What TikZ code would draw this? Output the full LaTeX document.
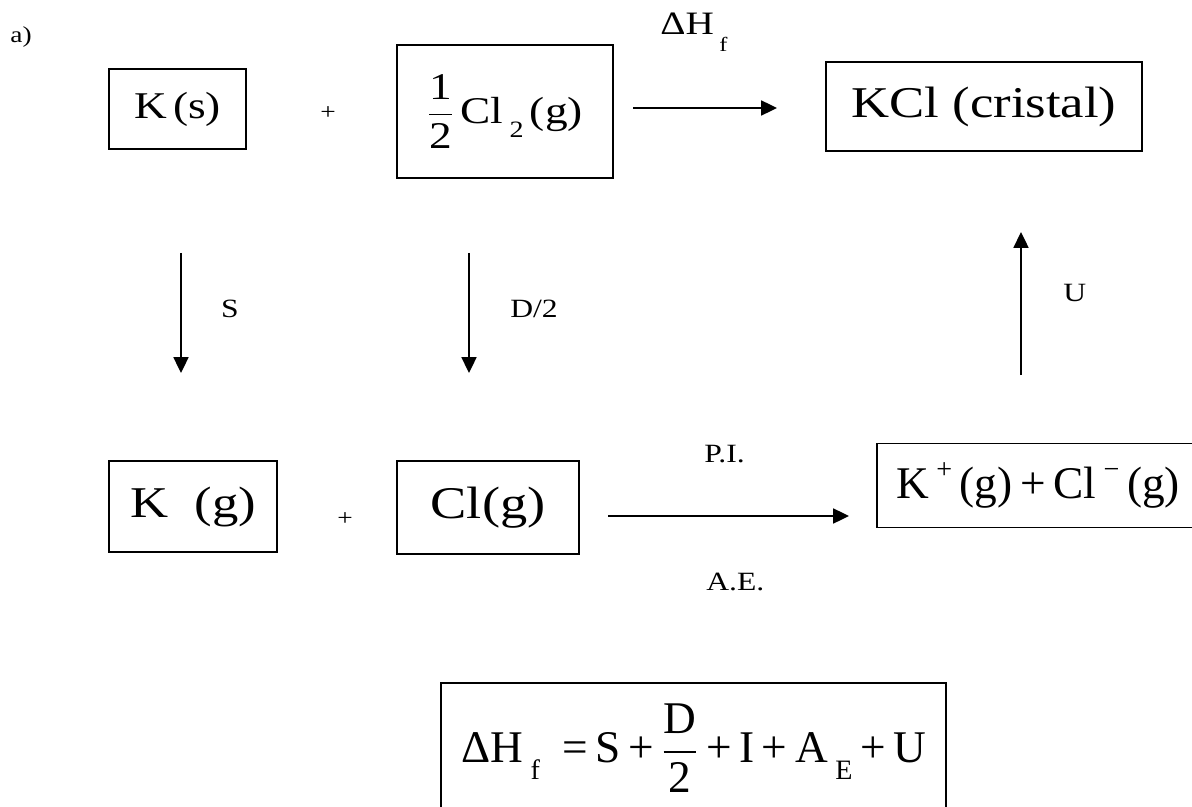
\documentclass[tikz,border=0pt]{standalone}
\usepackage{amsmath}
\usepackage{graphicx}
\usepackage{fontspec}
\setmainfont{Liberation Serif}[FakeStretch=1.2]
\newfontfamily\eqfont{Liberation Serif}
\usepackage{tikz}
\usetikzlibrary{arrows.meta,positioning}

\newcommand{\sbs}[1]{\raisebox{-0.5ex}{\scalebox{0.62}{#1}}}
\newcommand{\sps}[1]{\raisebox{0.95ex}{\scalebox{0.62}{#1}}}

\begin{document}
\begin{tikzpicture}[
    x=0.02cm, y=-0.02cm,
    block/.style={draw, line width=1.1pt, inner sep=0pt, align=center},
    arrow/.style={-{Triangle[length=9pt, width=8.5pt]}, line width=1.1pt},
    lab/.style={inner sep=0pt, font=\fontsize{15}{18}\selectfont},
    sign/.style={inner sep=0pt, font=\fontsize{13}{15}\selectfont},
  ]
  \useasboundingbox (0,0) rectangle (1192,807);
  \node[lab, anchor=base west, font=\fontsize{13}{15}\selectfont] (part) at (10,43) {a)};
  % top row
  \node[block, minimum width=2.74cm, minimum height=1.6cm, font=\fontsize{21.5}{24}\selectfont] (ks) at (177.5,109) {K\,(s)};
  \node[sign] (plus1) at (328,113) {+};
  \node[block, minimum width=4.32cm, minimum height=2.66cm, font=\fontsize{21.5}{24}\selectfont] (halfcl) at (505,111.5) {$\dfrac{\text{1}}{\text{2}}$\,Cl\,\raisebox{-0.3ex}{\sbs{2}}\,(g)};
  \node[block, minimum width=6.32cm, minimum height=1.78cm, font=\fontsize{25}{28}\selectfont] (kcl) at (984,106.5) {KCl (cristal)};
  % bottom row
  \node[block, minimum width=3.36cm, minimum height=1.82cm, font=\fontsize{25}{29}\selectfont] (kg) at (193,506.5) {K\ \ (g)};
  \node[sign] (plus2) at (345,519) {+};
  \node[block, minimum width=3.64cm, minimum height=1.86cm, font=\fontsize{25.8}{29}\selectfont] (clg) at (488,507.5) {Cl(g)};
  \node[block, minimum width=6.46cm, minimum height=1.68cm, font=\eqfont\fontsize{25.8}{29}\selectfont] (ions) at (1038,485.5) {K\,\sps{+}\,(g)\,+\,Cl\,\sps{−}\,(g)};
  % result
  \node[block, minimum width=10.1cm, minimum height=2.6cm, font=\eqfont\fontsize{25.8}{29}\selectfont] (sum) at (693.5,748) {ΔH\,\raisebox{-0.3ex}{\sbs{f}}\ \ =\,S\,+\,$\dfrac{\text{D}}{\text{2}}$\,+\,I\,+\,A\,\raisebox{-0.3ex}{\sbs{E}}\,+\,U};
  % steps
  \coordinate (f0) at (633,108);  \coordinate (f1) at (777,108);
  \coordinate (s0) at (181,253);  \coordinate (s1) at (181,373);
  \coordinate (d0) at (469,253);  \coordinate (d1) at (469,373);
  \coordinate (p0) at (608,516);  \coordinate (p1) at (849,516);
  \coordinate (u0) at (1021,375); \coordinate (u1) at (1021,232);
  \foreach \a/\b in {f0/f1, s0/s1, d0/d1, p0/p1, u0/u1}
    \draw[arrow] (\a) -- (\b);
  \node[lab, anchor=base west, font=\fontsize{18.6}{22}\selectfont] (dhf) at (660,35) {ΔH\,\raisebox{-0.6ex}{\sbs{f}}};
  \node[lab, anchor=base] (sl) at (230,317) {S};
  \node[lab, anchor=base west] (dl) at (510,317) {D/2};
  \node[lab, anchor=base west] (ul) at (1063,301) {U};
  \node[lab, anchor=base west] (pi) at (704,462) {P.I.};
  \node[lab, anchor=base west] (ae) at (706,590) {A.E.};
\end{tikzpicture}
\end{document}
